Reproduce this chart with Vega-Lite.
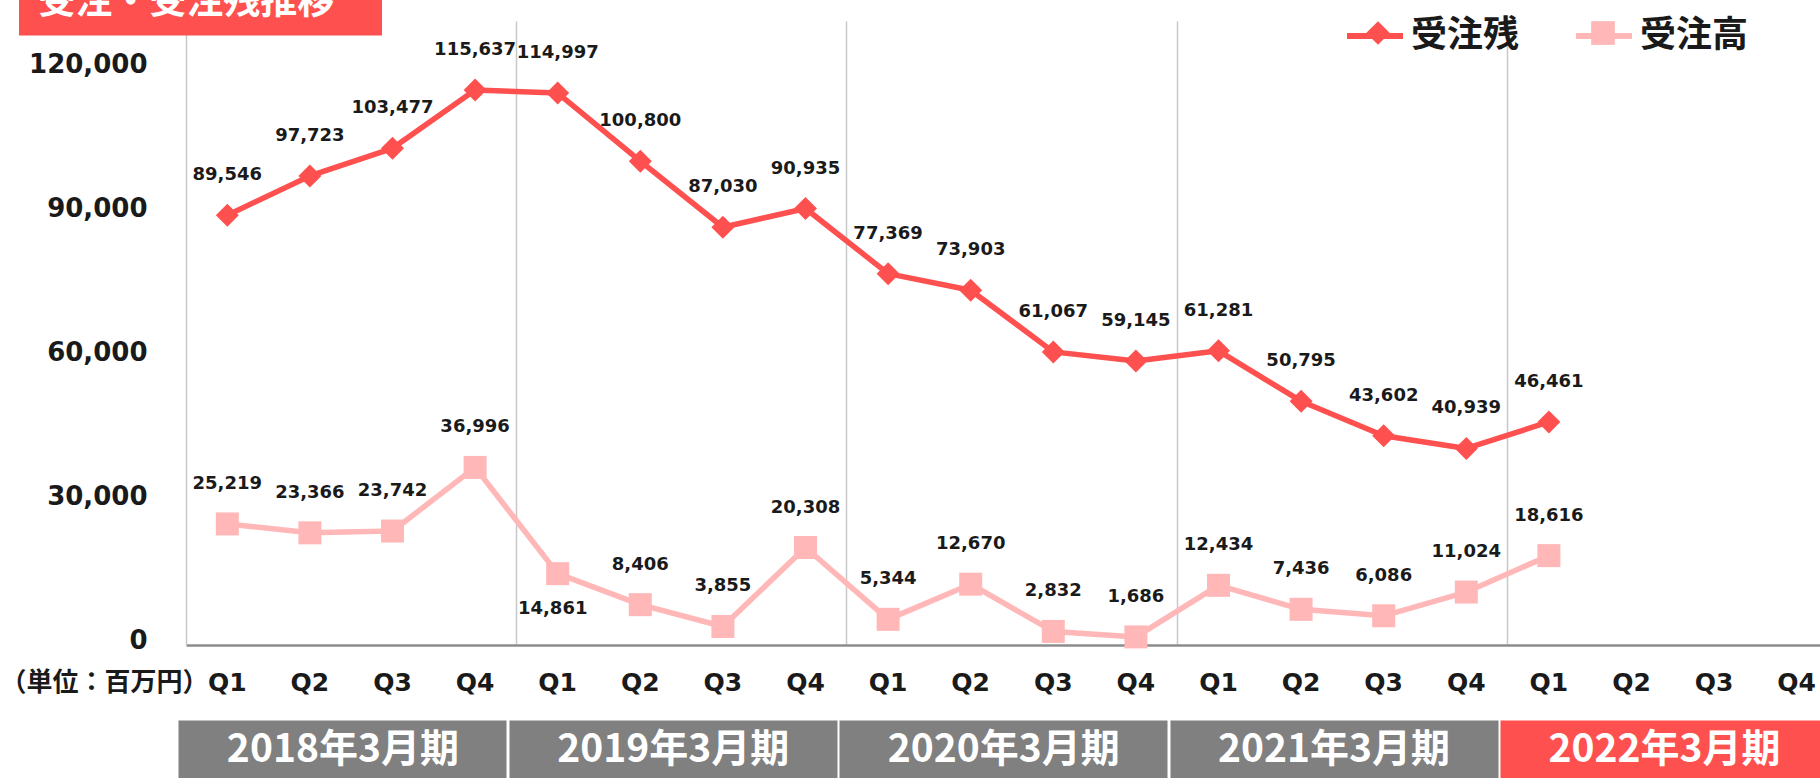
{
  "$schema": "https://vega.github.io/schema/vega-lite/v6.json",
  "width": 1634,
  "height": 624,
  "autosize": {"type": "none"},
  "padding": {"left": 186, "top": 21, "right": 0, "bottom": 133},
  "background": "white",
  "config": {
    "view": {"stroke": null},
    "axis": {"labelOverlap": false, "labelFlush": false, "labelBound": false, "labelLimit": 600}
  },
  "data": {
    "values": [
      {"key": "2018Q1", "series": "受注残", "value": 89546},
      {"key": "2018Q2", "series": "受注残", "value": 97723},
      {"key": "2018Q3", "series": "受注残", "value": 103477},
      {"key": "2018Q4", "series": "受注残", "value": 115637},
      {"key": "2019Q1", "series": "受注残", "value": 114997},
      {"key": "2019Q2", "series": "受注残", "value": 100800},
      {"key": "2019Q3", "series": "受注残", "value": 87030},
      {"key": "2019Q4", "series": "受注残", "value": 90935},
      {"key": "2020Q1", "series": "受注残", "value": 77369},
      {"key": "2020Q2", "series": "受注残", "value": 73903},
      {"key": "2020Q3", "series": "受注残", "value": 61067},
      {"key": "2020Q4", "series": "受注残", "value": 59145},
      {"key": "2021Q1", "series": "受注残", "value": 61281},
      {"key": "2021Q2", "series": "受注残", "value": 50795},
      {"key": "2021Q3", "series": "受注残", "value": 43602},
      {"key": "2021Q4", "series": "受注残", "value": 40939},
      {"key": "2022Q1", "series": "受注残", "value": 46461},
      {"key": "2018Q1", "series": "受注高", "value": 25219},
      {"key": "2018Q2", "series": "受注高", "value": 23366},
      {"key": "2018Q3", "series": "受注高", "value": 23742},
      {"key": "2018Q4", "series": "受注高", "value": 36996},
      {"key": "2019Q1", "series": "受注高", "value": 14861},
      {"key": "2019Q2", "series": "受注高", "value": 8406},
      {"key": "2019Q3", "series": "受注高", "value": 3855},
      {"key": "2019Q4", "series": "受注高", "value": 20308},
      {"key": "2020Q1", "series": "受注高", "value": 5344},
      {"key": "2020Q2", "series": "受注高", "value": 12670},
      {"key": "2020Q3", "series": "受注高", "value": 2832},
      {"key": "2020Q4", "series": "受注高", "value": 1686},
      {"key": "2021Q1", "series": "受注高", "value": 12434},
      {"key": "2021Q2", "series": "受注高", "value": 7436},
      {"key": "2021Q3", "series": "受注高", "value": 6086},
      {"key": "2021Q4", "series": "受注高", "value": 11024},
      {"key": "2022Q1", "series": "受注高", "value": 18616}
    ]
  },
  "encoding": {
    "y": {
      "field": "value",
      "type": "quantitative",
      "scale": {"domain": [0, 130000], "nice": false, "zero": true},
      "axis": {
        "title": null,
        "values": [0, 30000, 60000, 90000, 120000],
        "labelExpr": "format(datum.value, ',')",
        "grid": false,
        "ticks": false,
        "tickSize": 0,
        "domain": true,
        "domainColor": "#C8C8C8",
        "domainWidth": 1.5,
        "labelFont": "DejaVu Sans",
        "labelFontSize": 26,
        "labelFontWeight": "bold",
        "labelColor": "#1a1a1a",
        "labelPadding": 39,
        "labelOffset": -5
      }
    }
  },
  "resolve": {"axis": {"x": "independent"}},
  "layer": [
    {
      "mark": {"type": "line", "strokeWidth": 5.5, "strokeJoin": "round", "strokeCap": "round"},
      "encoding": {
        "x": {
          "field": "key",
          "type": "ordinal",
          "scale": {
            "type": "band",
            "domain": ["2018Q1","2018Q2","2018Q3","2018Q4","2019Q1","2019Q2","2019Q3","2019Q4","2020Q1","2020Q2","2020Q3","2020Q4","2021Q1","2021Q2","2021Q3","2021Q4","2022Q1","2022Q2","2022Q3","2022Q4"],
            "range": [0, 1652],
            "paddingInner": 0,
            "paddingOuter": 0
          },
          "axis": {
            "orient": "bottom",
            "labelExpr": "slice(datum.value, 4)",
            "labelAngle": 0,
            "labelFont": "DejaVu Sans",
            "labelFontSize": 25,
            "labelFontWeight": "bold",
            "labelColor": "#1a1a1a",
            "labelBaseline": "middle",
            "labelPadding": 37,
            "ticks": false,
            "tickSize": 0,
            "grid": false,
            "domain": true,
            "domainColor": "#8C8C8C",
            "domainWidth": 2.5,
            "title": "（単位：百万円）",
            "titleX": -186,
            "titleY": 37,
            "titleAlign": "left",
            "titleAnchor": "start",
            "titleBaseline": "middle",
            "titleAngle": 0,
            "titleFont": "Noto Sans CJK JP",
            "titleFontSize": 26,
            "titleFontWeight": "bold",
            "titleColor": "#1a1a1a"
          }
        },
        "stroke": {
          "field": "series",
          "type": "nominal",
          "scale": {"domain": ["受注残", "受注高"], "range": ["#FF5050", "#FFB7B7"]},
          "legend": {
            "orient": "none",
            "legendX": 1158,
            "legendY": -16,
            "direction": "horizontal",
            "title": null,
            "padding": 0,
            "symbolType": "stroke",
            "symbolSize": 3136,
            "symbolStrokeWidth": 6,
            "symbolOpacity": 1,
            "labelFont": "Noto Sans CJK JP",
            "labelFontSize": 36,
            "labelFontWeight": "bold",
            "labelColor": "#1a1a1a",
            "labelOffset": 5,
            "labelLimit": 400,
            "columnPadding": 44
          }
        }
      }
    },
    {
      "mark": {"type": "point", "filled": true, "size": 529, "opacity": 1},
      "encoding": {
        "x": {
          "field": "key",
          "type": "ordinal",
          "scale": {
            "type": "band",
            "domain": ["2018Q1","2018Q2","2018Q3","2018Q4","2019Q1","2019Q2","2019Q3","2019Q4","2020Q1","2020Q2","2020Q3","2020Q4","2021Q1","2021Q2","2021Q3","2021Q4","2022Q1","2022Q2","2022Q3","2022Q4"],
            "range": [0, 1652],
            "paddingInner": 0,
            "paddingOuter": 0
          },
          "axis": {
            "orient": "bottom",
            "offset": 75,
            "values": ["2018Q2", "2019Q2", "2020Q2", "2021Q2", "2022Q2"],
            "bandPosition": 0.9,
            "labelExpr": "slice(datum.value, 0, 4) + '年3月期'",
            "labelAngle": 0,
            "labelLimit": 600,
            "labelFont": "Noto Sans CJK JP",
            "labelFontSize": 39,
            "labelFontWeight": "bold",
            "labelColor": "#FFFFFF",
            "labelBaseline": "middle",
            "labelPadding": -29,
            "labelOffset": 33,
            "ticks": true,
            "tickSize": 58,
            "tickWidth": 328,
            "tickCap": "butt",
            "tickColor": {"condition": {"test": "datum.value === '2022Q2'", "value": "#FF5050"}, "value": "#808080"},
            "grid": false,
            "domain": false,
            "title": null
          }
        },
        "color": {
          "field": "series",
          "type": "nominal",
          "scale": {"range": ["#FF5050", "#FFB7B7"]},
          "legend": {
            "orient": "none",
            "legendX": 1174,
            "legendY": -6,
            "direction": "horizontal",
            "title": null,
            "padding": 0,
            "symbolSize": 560,
            "symbolStrokeWidth": 0,
            "symbolOpacity": 1,
            "labelExpr": "''",
            "labelFont": "Noto Sans CJK JP",
            "labelFontSize": 36,
            "labelOffset": 0,
            "columnPadding": 189
          }
        },
        "shape": {
          "field": "series",
          "type": "nominal",
          "scale": {"range": ["diamond", "square"]}
        }
      }
    },
    {
      "transform": [{"filter": "!(datum.key === '2019Q1' && datum.series === '受注高')"}],
      "mark": {"type": "text", "font": "DejaVu Sans", "fontSize": 18, "fontWeight": "bold", "fill": "#1a1a1a", "baseline": "middle", "align": "center", "dy": -40},
      "encoding": {
        "x": {
          "field": "key",
          "type": "ordinal",
          "scale": {
            "type": "band",
            "domain": ["2018Q1","2018Q2","2018Q3","2018Q4","2019Q1","2019Q2","2019Q3","2019Q4","2020Q1","2020Q2","2020Q3","2020Q4","2021Q1","2021Q2","2021Q3","2021Q4","2022Q1","2022Q2","2022Q3","2022Q4"],
            "range": [0, 1652],
            "paddingInner": 0,
            "paddingOuter": 0
          },
          "axis": {
            "orient": "top",
            "offset": -14,
            "zindex": 1,
            "values": ["2018Q1"],
            "bandPosition": 0.175,
            "labelExpr": "'受注・受注残推移'",
            "labelAngle": 0,
            "labelLimit": 600,
            "labelFont": "Noto Sans CJK JP",
            "labelFontSize": 37,
            "labelFontWeight": "bold",
            "labelColor": "#FFFFFF",
            "labelBaseline": "alphabetic",
            "labelPadding": -23,
            "labelOffset": -41,
            "ticks": true,
            "tickSize": 45,
            "tickWidth": 363,
            "tickCap": "butt",
            "tickColor": "#FF5050",
            "grid": false,
            "domain": false,
            "title": null
          }
        },
        "text": {"field": "value", "type": "quantitative", "format": ","}
      }
    },
    {
      "transform": [{"filter": "datum.key === '2019Q1' && datum.series === '受注高'"}],
      "mark": {"type": "text", "font": "DejaVu Sans", "fontSize": 18, "fontWeight": "bold", "fill": "#1a1a1a", "baseline": "middle", "align": "center", "dy": 35, "dx": -5},
      "encoding": {
        "x": {
          "field": "key",
          "type": "ordinal",
          "scale": {
            "type": "band",
            "domain": ["2018Q1","2018Q2","2018Q3","2018Q4","2019Q1","2019Q2","2019Q3","2019Q4","2020Q1","2020Q2","2020Q3","2020Q4","2021Q1","2021Q2","2021Q3","2021Q4","2022Q1","2022Q2","2022Q3","2022Q4"],
            "range": [0, 1652],
            "paddingInner": 0,
            "paddingOuter": 0
          },
          "axis": {
            "orient": "bottom",
            "values": ["2018Q4", "2019Q4", "2020Q4", "2021Q4"],
            "bandPosition": 1,
            "grid": true,
            "gridColor": "#C8C8C8",
            "gridWidth": 1.5,
            "ticks": false,
            "labels": false,
            "domain": false,
            "title": null
          }
        },
        "text": {"field": "value", "type": "quantitative", "format": ","}
      }
    }
  ]
}
